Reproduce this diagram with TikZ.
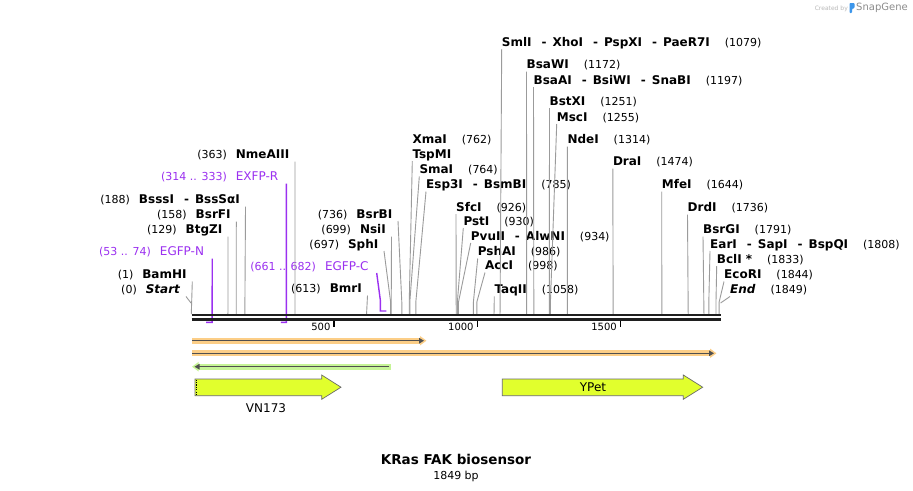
\documentclass[tikz,border=0pt]{standalone}
\usepackage{fontspec}
\setmainfont{DejaVu Sans}
\usetikzlibrary{arrows.meta,positioning}

\definecolor{sitegray}{RGB}{155,155,155}
\definecolor{primerpurple}{RGB}{155,48,240}
\definecolor{featgreen}{RGB}{225,255,45}
\definecolor{featedge}{RGB}{105,105,105}
\definecolor{bandorange}{RGB}{252,206,135}
\definecolor{bandgreen}{RGB}{198,244,150}
\definecolor{bardark}{RGB}{80,80,80}
\definecolor{snapblue}{RGB}{60,150,235}

\newcommand{\enzfont}{\fontsize{12}{14}\selectfont\bfseries}
\newcommand{\primfont}{\fontsize{12}{14}\selectfont}
\newcommand{\posfont}{\fontsize{11}{13}\selectfont\mdseries}
\newcommand{\lnum}[1]{{\posfont #1}\hspace{9pt}}
\newcommand{\rnum}[1]{\hspace{15pt}{\posfont #1}}
\newcommand{\enzsep}{\hspace{10pt}-\hspace{6pt}}

\begin{document}
\begin{tikzpicture}[x=1pt, y=-1pt,
		% Styles
		lsite/.style={anchor=south east, inner xsep=5.5pt, inner ysep=0pt, text depth=2.5pt, font=\enzfont},
		rsite/.style={anchor=south west, inner xsep=0pt, inner ysep=0pt, text depth=2.5pt, font=\enzfont},
		plabel/.style={lsite, inner xsep=8pt, font=\primfont, text=primerpurple},
		cut/.style={draw=sitegray, line width=0.9pt},
		primer/.style={draw=primerpurple, line width=1.4pt},
		backbone/.style={draw=black!88, line width=2.6pt},
		tick/.style={draw=black, line width=1.6pt},
		ticklbl/.style={anchor=east, inner xsep=3pt, inner ysep=0pt, font=\fontsize{10}{12}\selectfont},
		feature/.style={draw=featedge, fill=featgreen, line width=0.7pt},
		featlbl/.style={font=\fontsize{12}{14}\selectfont, inner sep=0pt},
		% Bars
		orangeband/.style={draw=bandorange, line width=6pt, -{Triangle[length=6.5pt, width=9pt]}},
		greenband/.style={draw=bandgreen, line width=6pt, -{Triangle[length=6.5pt, width=9pt]}},
		barline/.style={draw=bardark, line width=1.5pt, -{Triangle[length=5pt, width=5.5pt]}},
		]

		\fill[white] (0,0) rectangle (913,490);
		\useasboundingbox (0,0) rectangle (913,490);

		% Logo
		\node[font=\fontsize{6}{7}\selectfont, text=black!28, anchor=east, inner sep=0pt] (createdby) at (848,8.5) {Created by};
		\fill[snapblue, rounded corners=0.8pt] (849.5,13) -- (849.5,3) -- (854.5,3) -- (854.5,8) -- (852,9) -- (852,13) -- cycle;
		\node[font=\fontsize{10}{12}\selectfont, text=black!45, anchor=west, inner sep=0pt] (snapgene) at (856,8) {SnapGene};

		% Positions on the backbone (bp)
		\begin{scope}[shift={(191,0)}, x=0.2864pt]
			\coordinate (c0) at (0,314);
			\coordinate (c1) at (1,314);
			\coordinate (c129) at (129,314);
			\coordinate (c158) at (158,314);
			\coordinate (c188) at (188,314);
			\coordinate (c363) at (363,314);
			\coordinate (c613) at (613,314);
			\coordinate (c697) at (697,314);
			\coordinate (c699) at (699,314);
			\coordinate (c736) at (736,314);
			\coordinate (c762) at (762,314);
			\coordinate (c764) at (764,314);
			\coordinate (c785) at (785,314);
			\coordinate (c926) at (926,314);
			\coordinate (c930) at (930,314);
			\coordinate (c934) at (934,314);
			\coordinate (c986) at (986,314);
			\coordinate (c998) at (998,314);
			\coordinate (c1058) at (1058,314);
			\coordinate (c1079) at (1079,314);
			\coordinate (c1172) at (1172,314);
			\coordinate (c1197) at (1197,314);
			\coordinate (c1251) at (1251,314);
			\coordinate (c1255) at (1255,314);
			\coordinate (c1314) at (1314,314);
			\coordinate (c1474) at (1474,314);
			\coordinate (c1644) at (1644,314);
			\coordinate (c1736) at (1736,314);
			\coordinate (c1791) at (1791,314);
			\coordinate (c1808) at (1808,314);
			\coordinate (c1833) at (1833,314);
			\coordinate (c1844) at (1844,314);
			\coordinate (c1849) at (1849,314);
			% primers
			\coordinate (p53) at (53,322.3);
			\coordinate (p74) at (74,322.3);
			\coordinate (p314) at (314,322.3);
			\coordinate (p333) at (333,322.3);
			\coordinate (p661) at (661,311);
			\coordinate (p682) at (682,311);
			% ticks
			\coordinate (t500) at (500,320.5);
			\coordinate (t1000) at (1000,320.5);
			\coordinate (t1500) at (1500,320.5);
		\end{scope}

		% Left labels
		\node[lsite] (startmark) at (186,296.5) {\lnum{(0)}\textit{Start}};
		\node[lsite] (bamhi) at (192.3,281.5) {\lnum{(1)}BamHI};
		\node[plabel] (egfpn) at (212.2,258.5) {\lnum{(53 .. 74)}EGFP-N};
		\node[lsite] (btgzi) at (228,236.5) {\lnum{(129)}BtgZI};
		\node[lsite] (bsrfi) at (236.3,221.5) {\lnum{(158)}BsrFI};
		\node[lsite] (bsssi) at (245.5,206.5) {\lnum{(188)}BsssI\enzsep BssSαI};
		\node[plabel] (exfpr) at (286.4,183.5) {\lnum{(314 .. 333)}EXFP-R};
		\node[lsite] (nmeaiii) at (295,161.5) {\lnum{(363)}NmeAIII};
		\node[lsite] (bmri) at (367.5,295.5) {\lnum{(613)}BmrI};
		\node[plabel] (egfpc) at (376.7,273) {\lnum{(661 .. 682)}EGFP-C};
		\node[lsite] (sphi) at (384,251) {\lnum{(697)}SphI};
		\node[lsite] (nsii) at (391.5,236.5) {\lnum{(699)}NsiI};
		\node[lsite] (bsrbi) at (398,221) {\lnum{(736)}BsrBI};

		% Right labels
		\node[rsite] (xmai) at (412.3,146.5) {XmaI\rnum{(762)}};
		\node[rsite] (tspmi) at (412.3,161) {TspMI};
		\node[rsite] (smai) at (419.3,176.5) {SmaI\rnum{(764)}};
		\node[rsite] (esp3i) at (426,191.5) {Esp3I\enzsep BsmBI\rnum{(785)}};
		\node[rsite] (sfci) at (456,214) {SfcI\rnum{(926)}};
		\node[rsite] (psti) at (463.3,228) {PstI\rnum{(930)}};
		\node[rsite] (pvuii) at (470.7,243) {PvuII\enzsep AlwNI\rnum{(934)}};
		\node[rsite] (pshai) at (477.7,258.5) {PshAI\rnum{(986)}};
		\node[rsite] (acci) at (485,272.5) {AccI\rnum{(998)}};
		\node[rsite] (taqii) at (494.3,296.5) {TaqII\rnum{(1058)}};
		\node[rsite] (smli) at (501.7,49) {SmlI\enzsep XhoI\enzsep PspXI\enzsep PaeR7I\rnum{(1079)}};
		\node[rsite] (bsawi) at (526.5,71.5) {BsaWI\rnum{(1172)}};
		\node[rsite] (bsaai) at (533.5,87) {BsaAI\enzsep BsiWI\enzsep SnaBI\rnum{(1197)}};
		\node[rsite] (bstxi) at (549.5,108) {BstXI\rnum{(1251)}};
		\node[rsite] (msci) at (556.7,124) {MscI\rnum{(1255)}};
		\node[rsite] (ndei) at (567.3,146.5) {NdeI\rnum{(1314)}};
		\node[rsite] (drai) at (612.8,168.5) {DraI\rnum{(1474)}};
		\node[rsite] (mfei) at (661.7,191.5) {MfeI\rnum{(1644)}};
		\node[rsite] (drdi) at (687.5,214.5) {DrdI\rnum{(1736)}};
		\node[rsite] (bsrgi) at (703,236.5) {BsrGI\rnum{(1791)}};
		\node[rsite] (eari) at (710,251) {EarI\enzsep SapI\enzsep BspQI\rnum{(1808)}};
		\node[rsite] (bcli) at (716.7,266) {BclI *\rnum{(1833)}};
		\node[rsite] (ecori) at (724,281.5) {EcoRI\rnum{(1844)}};
		\node[rsite] (endmark) at (730,296.5) {\textit{End}\rnum{(1849)}};

		% Connections
		% left sites
		\draw[cut] (startmark.south east) -- ([yshift=11pt]c0);
		\draw[cut] (bamhi.south east) -- (c1);
		\draw[cut] (btgzi.south east) -- (c129);
		\draw[cut] (bsrfi.south east) -- (c158);
		\draw[cut] (bsssi.south east) -- (c188);
		\draw[cut] (nmeaiii.south east) -- (c363);
		\draw[cut] (bmri.south east) -- (c613);
		\draw[cut] (sphi.south east) -- ([yshift=12pt]c697) -- (c697);
		\draw[cut] (nsii.south east) -- (c699);
		\draw[cut] (bsrbi.south east) -- ([yshift=12pt]c736) -- (c736);

		% right sites
		\draw[cut] (tspmi.south west) -- ([yshift=12pt]c762) -- (c762);
		\draw[cut] (smai.south west) -- ([yshift=12pt]c764) -- (c764);
		\draw[cut] (esp3i.south west) -- ([yshift=12pt]c785) -- (c785);
		\draw[cut] (sfci.south west) -- (c926);
		\draw[cut] (psti.south west) -- ([yshift=12pt]c930) -- (c930);
		\draw[cut] (pvuii.south west) -- ([yshift=12pt]c934) -- (c934);
		\draw[cut] (pshai.south west) -- ([yshift=12pt]c986) -- (c986);
		\draw[cut] (acci.south west) -- ([yshift=12pt]c998) -- (c998);
		\draw[cut] (taqii.south west) -- (c1058);
		\draw[cut] (smli.south west) -- (c1079);
		\draw[cut] (bsawi.south west) -- (c1172);
		\draw[cut] (bsaai.south west) -- (c1197);
		\draw[cut] (bstxi.south west) -- (c1251);
		\draw[cut] (msci.south west) -- ([yshift=12pt]c1255) -- (c1255);
		\draw[cut] (ndei.south west) -- (c1314);
		\draw[cut] (drai.south west) -- (c1474);
		\draw[cut] (mfei.south west) -- (c1644);
		\draw[cut] (drdi.south west) -- (c1736);
		\draw[cut] (bsrgi.south west) -- (c1791);
		\draw[cut] (eari.south west) -- ([yshift=12pt]c1808) -- (c1808);
		\draw[cut] (bcli.south west) -- ([yshift=12pt]c1833) -- (c1833);
		\draw[cut] (ecori.south west) -- ([yshift=12pt]c1844) -- (c1844);
		\draw[cut] (endmark.south west) -- ([yshift=11pt]c1849);

		% primers
		\draw[primer] (egfpn.south east) -- (p74) -- (p53);
		\draw[primer] (exfpr.south east) -- (p333) -- (p314);
		\draw[primer] (egfpc.south east) -- ([yshift=11pt]p661) -- (p661) -- (p682);

		% Backbone
		\draw[backbone] (191.5,315) -- (720.5,315);
		\draw[backbone] (191.5,319.5) -- (720.5,319.5);
		\draw[tick] (t500) -- ++(0,6.5) node[ticklbl] (l500) {500};
		\draw[tick] (t1000) -- ++(0,6.5) node[ticklbl] (l1000) {1000};
		\draw[tick] (t1500) -- ++(0,6.5) node[ticklbl] (l1500) {1500};

		% Bars
		\draw[orangeband] (192,340.7) -- (426.5,340.7);
		\draw[barline] (192,340.7) -- (424,340.7);
		\draw[orangeband] (192,353.3) -- (716.5,353.3);
		\draw[barline] (192,353.3) -- (714,353.3);
		\draw[greenband] (390.7,366.7) -- (192,366.7);
		\draw[barline] (389,366.7) -- (194.5,366.7);

		% Features
		\draw[feature] (195,379) -- (321.7,379) -- (321.7,375) -- (341,387.2) -- (321.7,399.3) -- (321.7,395.7) -- (195,395.7) -- cycle;
		\draw[black, line width=1.3pt, dash pattern=on 1.2pt off 1.2pt] (196.3,379.6) -- (196.3,395.2);
		\node[featlbl] (vn173) at (266,408) {VN173};
		\draw[feature] (502.3,379) -- (683.3,379) -- (683.3,375) -- (702.7,387.2) -- (683.3,399.3) -- (683.3,395.7) -- (502.3,395.7) -- cycle;
		\node[featlbl] (ypet) at (593,387.3) {YPet};

		% Title
		\node[font=\fontsize{13.5}{16}\selectfont\bfseries] (title) at (456,459) {KRas FAK biosensor};
		\node[font=\fontsize{11}{13}\selectfont, below=0pt of title] (size) {1849 bp};

	\end{tikzpicture}
\end{document}
